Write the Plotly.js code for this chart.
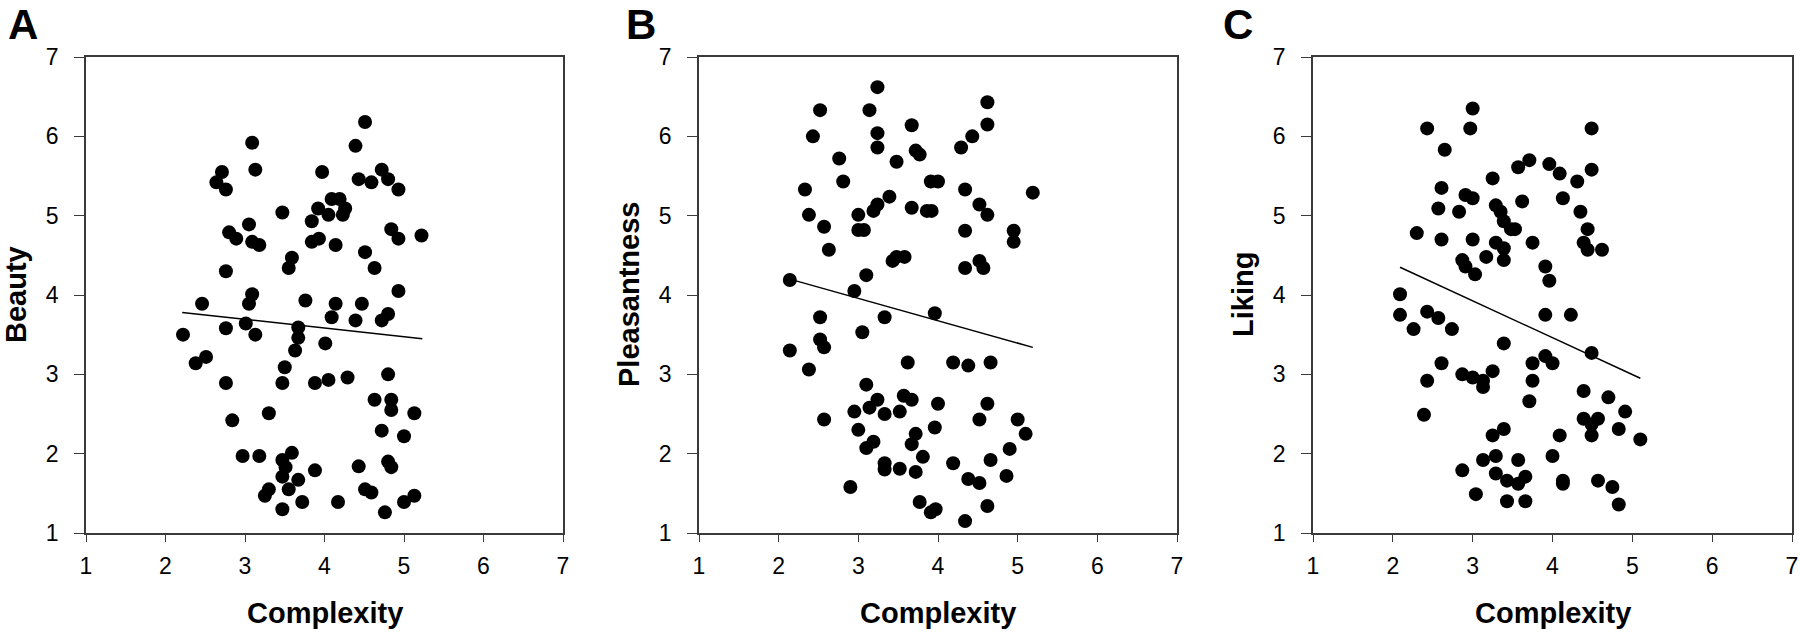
<!DOCTYPE html>
<html>
<head>
<meta charset="utf-8">
<script src="https://cdn.plot.ly/plotly-3.0.1.min.js"></script>
<style>html,body{margin:0;padding:0;background:#fff;}#chart{width:1800px;height:634px;}</style>
</head>
<body>
<div id="chart"></div>
<script>
// Panel A: Beauty vs Complexity
var aX = [2.22,2.38,2.51,2.46,2.64,2.71,2.76,2.80,2.89,2.76,2.76,2.76,2.84,2.97,3.18,3.09,3.13,3.05,3.09,3.18,3.09,3.05,3.01,3.13,3.30,3.30,3.25,3.47,3.47,3.51,3.47,3.59,3.55,3.67,3.72,3.47,3.59,3.55,3.50,3.47,3.63,3.67,3.67,3.76,3.88,3.88,4.05,4.01,4.09,4.14,3.84,3.84,3.93,3.92,3.97,4.05,4.09,4.19,4.14,4.23,4.26,4.17,4.29,4.39,4.51,4.43,4.59,4.72,4.80,4.93,4.51,4.63,4.84,4.93,5.22,4.93,4.47,4.39,4.72,4.80,4.80,4.63,4.84,4.84,4.72,5.00,5.13,4.43,4.80,4.84,4.51,4.59,4.76,5.00,5.13];
var aY = [3.50,3.14,3.22,3.89,5.42,5.55,5.33,4.79,4.71,4.30,3.58,2.89,2.42,1.97,1.97,5.92,5.58,4.89,4.67,4.63,4.01,3.89,3.64,3.50,2.51,1.55,1.47,1.30,1.92,1.83,1.71,2.01,1.55,1.67,1.39,5.04,4.47,4.34,3.09,2.89,3.30,3.46,3.59,3.93,1.79,2.89,2.93,3.39,3.72,3.89,4.93,4.67,4.71,5.09,5.55,5.01,5.21,5.21,4.63,5.01,5.09,1.39,2.96,5.88,6.18,5.46,5.42,5.58,5.46,5.33,4.54,4.34,4.83,4.71,4.75,4.05,3.89,3.68,3.68,3.76,3.00,2.68,2.68,2.55,2.29,2.22,2.51,1.84,1.90,1.83,1.55,1.51,1.26,1.39,1.47];
var aFitX = [2.21, 5.23];
var aFitY = [3.78, 3.45];

// Panel B: Pleasantness vs Complexity
var bX = [2.14,2.14,2.33,2.38,2.38,2.43,2.52,2.57,2.63,2.52,2.52,2.57,2.57,2.76,2.81,2.90,2.95,3.00,3.00,3.00,3.07,2.95,3.05,3.10,3.10,3.10,3.14,3.19,3.14,3.24,3.24,3.24,3.19,3.24,3.24,3.33,3.33,3.33,3.33,3.39,3.43,3.48,3.58,3.48,3.52,3.52,3.57,3.62,3.67,3.67,3.72,3.77,3.67,3.72,3.67,3.72,3.81,3.77,3.91,4.00,3.86,3.92,3.96,3.96,4.00,3.91,3.97,4.19,4.19,4.29,4.43,4.34,4.34,4.34,4.38,4.38,4.34,4.52,4.52,4.52,4.57,4.52,4.62,4.62,4.62,4.66,4.62,4.66,4.62,4.86,4.90,4.95,4.95,5.00,5.10,5.19];
var bY = [4.19,3.30,5.33,5.01,3.06,6.00,6.33,4.86,4.57,3.72,3.44,3.34,2.43,5.72,5.43,1.58,2.53,2.30,5.01,4.82,4.82,4.05,3.53,4.25,2.87,2.07,2.58,2.15,6.33,6.62,6.04,5.86,5.06,5.14,2.68,2.50,1.88,1.80,3.72,5.24,4.43,4.48,4.48,5.68,2.53,1.81,2.73,3.15,2.68,6.14,5.82,5.77,5.10,2.25,2.12,1.77,1.96,1.39,5.43,5.43,5.06,5.06,3.77,2.33,2.63,1.26,1.30,1.88,3.15,5.86,6.00,5.33,4.81,4.34,3.11,1.68,1.15,1.63,2.43,4.43,4.34,5.14,5.01,6.43,6.15,3.15,2.63,1.92,1.34,1.72,2.06,4.81,4.67,2.43,2.25,5.29];
var bFitX = [2.14, 5.19];
var bFitY = [4.20, 3.34];

// Panel C: Liking vs Complexity
var cX = [2.09,2.09,2.26,2.30,2.43,2.43,2.43,2.39,2.57,2.61,2.61,2.57,2.61,2.65,2.74,2.83,2.87,2.91,2.87,2.87,2.91,3.00,3.00,2.97,3.00,3.03,3.00,3.13,3.13,3.04,3.13,3.17,3.25,3.29,3.35,3.39,3.48,3.53,3.29,3.39,3.39,3.25,3.39,3.25,3.39,3.29,3.29,3.43,3.43,3.57,3.57,3.66,3.66,3.57,3.71,3.62,3.75,3.75,3.75,3.71,3.91,3.96,3.91,3.91,4.00,3.96,4.09,4.13,4.23,4.00,4.09,4.13,4.13,4.31,4.35,4.44,4.39,4.44,4.62,4.49,4.49,4.49,4.39,4.39,4.49,4.49,4.57,4.70,4.57,4.75,4.83,4.83,4.91,5.10];
var cY = [4.01,3.75,3.57,4.78,6.10,3.79,2.92,2.49,5.09,5.35,4.70,3.71,3.14,5.83,3.57,5.05,4.44,4.36,3.00,1.79,5.26,5.22,6.35,6.10,4.70,4.26,2.96,2.92,2.84,1.49,1.92,4.48,5.47,5.13,5.05,4.93,4.83,4.83,4.66,4.59,4.44,3.04,3.39,2.23,2.31,1.97,1.75,1.66,1.40,1.92,1.62,1.71,1.40,5.61,5.70,5.18,4.66,3.14,2.92,2.66,4.36,4.18,3.75,3.23,3.14,5.65,5.53,5.22,3.75,1.97,2.23,1.66,1.62,5.43,5.05,4.83,4.66,4.57,4.57,6.10,5.58,3.27,2.79,2.44,2.37,2.23,2.44,2.71,1.66,1.58,1.36,2.31,2.53,2.18];
var cFitX = [2.09, 5.10];
var cFitY = [4.35, 2.95];

var tickVals = [1, 2, 3, 4, 5, 6, 7];
var tickText = ['1', '2', '3', '4', '5', '6', '7'];
var xTitle = 'Complexity';
var yTitles = ['Beauty', 'Pleasantness', 'Liking'];
var panelLetters = ['A', 'B', 'C'];

var W = 1800, H = 634;
var FONT = 'Liberation Sans, Arial, Helvetica, sans-serif';
var plotTop = 57, plotBottom = 533;
var panelsPx = [[86, 563], [699, 1177], [1313, 1792]];
var letterPx = [23, 641, 1238];

function px2x(p) { return p / W; }
function py2y(p) { return 1 - p / H; }

var sets = [[aX, aY, aFitX, aFitY], [bX, bY, bFitX, bFitY], [cX, cY, cFitX, cFitY]];
var data = [];
var layout = {
  width: W, height: H,
  margin: {l: 0, r: 0, t: 0, b: 0},
  paper_bgcolor: '#ffffff', plot_bgcolor: '#ffffff',
  showlegend: false,
  font: {family: FONT, color: '#000000'},
  annotations: []
};

sets.forEach(function (s, i) {
  var xa = i === 0 ? 'x' : 'x' + (i + 1);
  var ya = i === 0 ? 'y' : 'y' + (i + 1);
  data.push({
    type: 'scatter', mode: 'markers', x: s[0], y: s[1], xaxis: xa, yaxis: ya,
    marker: {color: '#000000', size: 14, line: {width: 0}}, hoverinfo: 'x+y'
  });
  data.push({
    type: 'scatter', mode: 'lines', x: s[2], y: s[3], xaxis: xa, yaxis: ya,
    line: {color: '#000000', width: 1.5}, hoverinfo: 'skip'
  });
  var common = {
    range: [1, 7], tickvals: tickVals, ticktext: tickText,
    showgrid: false, zeroline: false, showline: true, mirror: true,
    linecolor: '#3a3a3a', linewidth: 1.5, ticks: 'outside', tickcolor: '#3a3a3a', tickwidth: 1.2,
    tickfont: {family: FONT, size: 23, color: '#000000'}, fixedrange: true
  };
  var xk = i === 0 ? 'xaxis' : 'xaxis' + (i + 1);
  var yk = i === 0 ? 'yaxis' : 'yaxis' + (i + 1);
  layout[xk] = Object.assign({}, common, {
    domain: [px2x(panelsPx[i][0]), px2x(panelsPx[i][1])], anchor: ya, ticklen: 7, ticklabelstandoff: 5
  });
  layout[yk] = Object.assign({}, common, {
    domain: [py2y(plotBottom), py2y(plotTop)], anchor: xa, ticklen: 10, ticklabelstandoff: 11
  });
  var cx = (panelsPx[i][0] + panelsPx[i][1]) / 2;
  layout.annotations.push({
    xref: 'paper', yref: 'paper', x: px2x(cx), y: py2y(613), xanchor: 'center', yanchor: 'middle',
    text: '<b>' + xTitle + '</b>', showarrow: false, font: {family: FONT, size: 29, color: '#000000'}
  });
  layout.annotations.push({
    xref: 'paper', yref: 'paper', x: px2x(panelsPx[i][0] - 70), y: py2y((plotTop + plotBottom) / 2),
    xanchor: 'center', yanchor: 'middle', textangle: -90,
    text: '<b>' + yTitles[i] + '</b>', showarrow: false, font: {family: FONT, size: 29, color: '#000000'}
  });
  layout.annotations.push({
    xref: 'paper', yref: 'paper', x: px2x(letterPx[i]), y: py2y(24.5), xanchor: 'center', yanchor: 'middle',
    text: '<b>' + panelLetters[i] + '</b>', showarrow: false, font: {family: FONT, size: 42, color: '#000000'}
  });
});

Plotly.newPlot('chart', data, layout, {displayModeBar: false, staticPlot: false});
</script>
</body>
</html>
